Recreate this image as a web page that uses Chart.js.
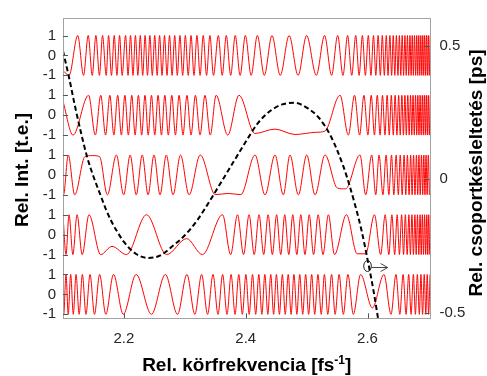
<!DOCTYPE html>
<html>
<head>
<meta charset="utf-8">
<script src="https://cdn.jsdelivr.net/npm/chart.js@4.4.1/dist/chart.umd.min.js"></script>
<style>
  html, body { margin: 0; padding: 0; background: #fff; }
  #wrap { width: 487px; height: 376px; }
</style>
</head>
<body>
<div id="wrap"><canvas id="chart" width="487" height="376"></canvas></div>
<script>
// axes
const xTicks = [2.2, 2.4, 2.6];
const intTicks = [1, 0, -1];
const delayTicks = [0.5, 0, -0.5];
const rowOffsets = [0, -3, -6, -9, -12];

// fringe maxima (+1), minima (-1) and in-between points
const row1Max = [2.1242, 2.1414, 2.1540, 2.1649, 2.1748, 2.1841, 2.1929, 2.2027, 2.2109, 2.2189, 2.2269, 2.2348, 2.2427, 2.2506, 2.2586, 2.2667, 2.2749, 2.2834, 2.2920, 2.3009, 2.3102, 2.3199, 2.3302, 2.3412, 2.3551, 2.3681, 2.3828, 2.3994, 2.4191, 2.4431, 2.4713, 2.5000, 2.5295, 2.5510, 2.5673, 2.5806, 2.5916, 2.6013, 2.6098, 2.6174, 2.6243, 2.6308, 2.6367, 2.6422, 2.6474, 2.6523, 2.6569, 2.6614, 2.6655, 2.6697, 2.6734, 2.6771, 2.6808, 2.6841, 2.6875, 2.6907, 2.6937, 2.6968, 2.6998, 2.7028];
const row1Min = [2.1100, 2.1337, 2.1480, 2.1598, 2.1710, 2.1796, 2.1885, 2.1971, 2.2068, 2.2149, 2.2229, 2.2309, 2.2387, 2.2466, 2.2546, 2.2626, 2.2708, 2.2791, 2.2877, 2.2965, 2.3056, 2.3151, 2.3251, 2.3357, 2.3470, 2.3614, 2.3753, 2.3908, 2.4089, 2.4305, 2.4567, 2.4860, 2.5159, 2.5410, 2.5597, 2.5741, 2.5862, 2.5965, 2.6056, 2.6136, 2.6210, 2.6276, 2.6337, 2.6396, 2.6448, 2.6500, 2.6546, 2.6592, 2.6635, 2.6676, 2.6716, 2.6753, 2.6790, 2.6824, 2.6858, 2.6891, 2.6922, 2.6953, 2.6983, 2.7013];
const row1Mid = [[2.1000, -0.77]];

const row2Max = [2.1420, 2.1620, 2.1769, 2.1898, 2.2016, 2.2129, 2.2238, 2.2346, 2.2453, 2.2561, 2.2672, 2.2786, 2.2906, 2.3035, 2.3174, 2.3331, 2.3514, 2.3890, 2.5549, 2.5787, 2.5941, 2.6061, 2.6160, 2.6246, 2.6322, 2.6391, 2.6453, 2.6511, 2.6564, 2.6614, 2.6661, 2.6706, 2.6747, 2.6788, 2.6826, 2.6863, 2.6900, 2.6933, 2.6965, 2.6998, 2.7030];
const row2Min = [2.1164, 2.1531, 2.1699, 2.1835, 2.1958, 2.2073, 2.2184, 2.2292, 2.2399, 2.2507, 2.2616, 2.2729, 2.2846, 2.2970, 2.3102, 2.3250, 2.3418, 2.3705, 2.5685, 2.5870, 2.6006, 2.6114, 2.6206, 2.6286, 2.6357, 2.6423, 2.6483, 2.6537, 2.6590, 2.6637, 2.6684, 2.6727, 2.6768, 2.6808, 2.6845, 2.6881, 2.6916, 2.6949, 2.6982, 2.7014];
const row2Mid = [[2.1000, 0.70], [2.4150, -0.92], [2.4480, -0.70], [2.4810, -0.97], [2.5150, -0.86], [2.5300, -0.80]];

const row3Max = [2.1086, 2.1876, 2.2103, 2.2301, 2.2494, 2.2696, 2.2929, 2.3253, 2.4153, 2.4481, 2.4727, 2.5002, 2.5302, 2.5877, 2.6069, 2.6189, 2.6305, 2.6394, 2.6470, 2.6537, 2.6601, 2.6655, 2.6708, 2.6756, 2.6803, 2.6844, 2.6886, 2.6924, 2.6961, 2.6998];
const row3Min = [2.1008, 2.1192, 2.1729, 2.1996, 2.2203, 2.2397, 2.2593, 2.2807, 2.3070, 2.4317, 2.4617, 2.4864, 2.5138, 2.5970, 2.6135, 2.6253, 2.6350, 2.6432, 2.6506, 2.6569, 2.6628, 2.6682, 2.6732, 2.6779, 2.6824, 2.6865, 2.6906, 2.6943, 2.6979, 2.7016];
const row3Mid = [[2.1000, -0.97], [2.1360, 0.92], [2.1480, 0.97], [2.1600, 0.92], [2.3500, -0.99], [2.3715, -0.93], [2.3920, -0.99], [2.5505, -0.66], [2.5640, -0.70]];

const row4Max = [2.1099, 2.1231, 2.1427, 2.2371, 2.3620, 2.3865, 2.4055, 2.4219, 2.4368, 2.4507, 2.4641, 2.4773, 2.4905, 2.5043, 2.5189, 2.5357, 2.5654, 2.6114, 2.6290, 2.6400, 2.6487, 2.6560, 2.6621, 2.6679, 2.6729, 2.6778, 2.6820, 2.6863, 2.6900, 2.6937, 2.6973, 2.7005];
const row4Min = [2.1049, 2.1162, 2.1315, 2.1618, 2.2042, 2.2700, 2.3289, 2.3753, 2.3965, 2.4140, 2.4295, 2.4438, 2.4575, 2.4707, 2.4839, 2.4973, 2.5114, 2.5269, 2.5458, 2.6216, 2.6350, 2.6446, 2.6524, 2.6592, 2.6651, 2.6704, 2.6754, 2.6799, 2.6842, 2.6882, 2.6919, 2.6955, 2.6989, 2.7021];
const row4Mid = [[2.1000, 0.99], [2.1805, -0.59], [2.3030, -0.20], [2.5830, -0.96], [2.5970, -0.96]];

const row5Max = [2.1049, 2.1126, 2.1214, 2.1318, 2.1444, 2.1601, 2.1829, 2.2201, 2.2681, 2.3035, 2.3276, 2.3463, 2.3621, 2.3760, 2.3886, 2.4003, 2.4112, 2.4215, 2.4314, 2.4411, 2.4504, 2.4602, 2.4698, 2.4792, 2.4887, 2.4984, 2.5083, 2.5186, 2.5292, 2.5410, 2.5533, 2.5678, 2.5886, 2.6270, 2.6467, 2.6584, 2.6676, 2.6753, 2.6818, 2.6877, 2.6931, 2.6980, 2.7027];
const row5Min = [2.1012, 2.1086, 2.1169, 2.1265, 2.1377, 2.1517, 2.1703, 2.1989, 2.2452, 2.2880, 2.3165, 2.3374, 2.3545, 2.3693, 2.3825, 2.3945, 2.4057, 2.4164, 2.4265, 2.4363, 2.4458, 2.4553, 2.4649, 2.4745, 2.4840, 2.4936, 2.5033, 2.5133, 2.5240, 2.5347, 2.5468, 2.5603, 2.5767, 2.6386, 2.6531, 2.6633, 2.6715, 2.6786, 2.6851, 2.6904, 2.6957, 2.7003];
const row5Mid = [[2.1000, -0.48], [2.6080, -0.68]];

// group delay (right axis, ps)
const gdX = [2.100, 2.110, 2.120, 2.130, 2.140, 2.150, 2.160, 2.170, 2.180, 2.190, 2.200, 2.220, 2.240, 2.260, 2.280, 2.300, 2.320, 2.340, 2.360, 2.380, 2.400, 2.420, 2.440, 2.460, 2.480, 2.500, 2.520, 2.540, 2.560, 2.570, 2.580, 2.590, 2.600, 2.610, 2.620];
const gdY = [0.48, 0.38, 0.27, 0.17, 0.08, 0.01, -0.05, -0.11, -0.16, -0.20, -0.235, -0.28, -0.295, -0.285, -0.25, -0.21, -0.155, -0.085, -0.01, 0.065, 0.14, 0.21, 0.255, 0.28, 0.286, 0.268, 0.23, 0.16, 0.05, -0.02, -0.10, -0.19, -0.30, -0.42, -0.56];

// circled point + arrow
const markX = 2.6, markY = -0.325, arrowToX = 2.633;

const FONT = '"Liberation Sans", Arial, Helvetica, sans-serif';

function rowPoints(maxs, mins, mids, off) {
  const pts = [];
  maxs.forEach(x => pts.push({ x, y: 1 + off }));
  mins.forEach(x => pts.push({ x, y: -1 + off }));
  mids.forEach(([x, v]) => pts.push({ x, y: v + off }));
  return pts.sort((a, b) => a.x - b.x);
}

const rows = [
  [row1Max, row1Min, row1Mid], [row2Max, row2Min, row2Mid], [row3Max, row3Min, row3Mid],
  [row4Max, row4Min, row4Mid], [row5Max, row5Min, row5Mid]
];

const redSets = rows.map((r, i) => ({
  data: rowPoints(r[0], r[1], r[2], rowOffsets[i]),
  borderColor: 'rgb(255,0,0)', borderWidth: 1, pointRadius: 0,
  cubicInterpolationMode: 'monotone', yAxisID: 'y', order: 2, fill: false
}));

const gdSet = {
  data: gdX.map((x, i) => ({ x, y: gdY[i] })),
  borderColor: '#000', borderWidth: 2, borderDash: [5, 3], pointRadius: 0,
  cubicInterpolationMode: 'monotone', yAxisID: 'y2', order: 1, fill: false
};

const yTickVals = [];
rowOffsets.forEach(o => intTicks.forEach(t => yTickVals.push(o + t)));
function rowLabel(v) {
  const o = rowOffsets.find(o => Math.abs(v - o) <= 1.01);
  return String(Math.round(v - o));
}

// frame, inward ticks, titles and the marker
const framePlugin = {
  id: 'frame',
  afterDraw(chart) {
    const { ctx, chartArea: a, scales } = chart;
    ctx.save();
    ctx.strokeStyle = '#a3a3a3'; ctx.lineWidth = 1;
    ctx.strokeRect(Math.round(a.left) + 0.5, Math.round(a.top) + 0.5, Math.round(a.right - a.left) - 1, Math.round(a.bottom - a.top));
    ctx.strokeStyle = '#555';
    ctx.beginPath();
    yTickVals.forEach(v => { const y = Math.round(scales.y.getPixelForValue(v)) + 0.5; ctx.moveTo(a.left, y); ctx.lineTo(a.left + 5, y); });
    delayTicks.forEach(v => { const y = Math.round(scales.y2.getPixelForValue(v)) + 0.5; ctx.moveTo(a.right - 6, y); ctx.lineTo(a.right - 1, y); });
    xTicks.forEach(v => { const x = Math.round(scales.x.getPixelForValue(v)) + 0.5; ctx.moveTo(x, a.bottom); ctx.lineTo(x, a.bottom - 5); });
    ctx.stroke();

    // circled point and arrow
    const mx = scales.x.getPixelForValue(markX), my = scales.y2.getPixelForValue(markY);
    ctx.strokeStyle = '#222'; ctx.lineWidth = 1;
    ctx.beginPath(); ctx.ellipse(mx, my, 3.8, 5.5, 0, 0, Math.PI * 2); ctx.stroke();
    const ax = scales.x.getPixelForValue(arrowToX);
    ctx.strokeStyle = '#444';
    ctx.beginPath();
    ctx.moveTo(mx + 4, my + 1.5); ctx.lineTo(ax, my + 1.5);
    ctx.moveTo(ax - 7, my - 2.5); ctx.lineTo(ax, my + 1.5); ctx.lineTo(ax - 7, my + 5.5);
    ctx.stroke();

    // axis titles
    ctx.fillStyle = '#000';
    ctx.font = 'bold 19px ' + FONT;
    ctx.textBaseline = 'alphabetic';
    const main = 'Rel. körfrekvencia [fs', sup = '-1', tail = ']';
    const w1 = ctx.measureText(main).width, w3 = ctx.measureText(tail).width;
    ctx.font = 'bold 12px ' + FONT;
    const w2 = ctx.measureText(sup).width;
    let x0 = (a.left + a.right) / 2 - (w1 + w2 + w3) / 2;
    const by = 371;
    ctx.font = 'bold 19px ' + FONT; ctx.textAlign = 'left';
    ctx.fillText(main, x0, by);
    ctx.font = 'bold 12px ' + FONT;
    ctx.fillText(sup, x0 + w1, by - 7);
    ctx.font = 'bold 19px ' + FONT;
    ctx.fillText(tail, x0 + w1 + w2, by);

    ctx.textAlign = 'center'; ctx.textBaseline = 'middle';
    ctx.save(); ctx.translate(23, 170); ctx.rotate(-Math.PI / 2);
    ctx.fillText('Rel. Int. [t.e.]', 0, 0); ctx.restore();
    ctx.save(); ctx.translate(477, 173); ctx.rotate(-Math.PI / 2);
    ctx.fillText('Rel. csoportkésleltetés [ps]', 0, 0); ctx.restore();
    ctx.restore();
  }
};

const tickFont = { family: FONT, size: 15 };

new Chart(document.getElementById('chart'), {
  type: 'line',
  data: { datasets: [gdSet, ...redSets] },
  options: {
    responsive: false, animation: false, devicePixelRatio: 1,
    layout: { padding: { top: 14, left: 0, right: 0, bottom: 0 } },
    plugins: { legend: { display: false }, tooltip: { enabled: false } },
    scales: {
      x: {
        type: 'linear', position: 'bottom', min: 2.1, max: 2.7034,
        grid: { display: false, drawTicks: false }, border: { display: false },
        ticks: { font: tickFont, color: '#262626', padding: 12, autoSkip: false, maxRotation: 0, callback: v => v.toFixed(1) },
        afterBuildTicks: s => { s.ticks = xTicks.map(v => ({ value: v })); },
        afterFit: s => { s.height = 57.7; }
      },
      y: {
        type: 'linear', position: 'left', min: -13.2, max: 1.88,
        grid: { display: false, drawTicks: false }, border: { display: false },
        ticks: { font: tickFont, color: '#262626', padding: 7, autoSkip: false, callback: v => rowLabel(v) },
        afterBuildTicks: s => { s.ticks = yTickVals.map(v => ({ value: v })); },
        afterFit: s => { s.width = 63; }
      },
      y2: {
        type: 'linear', position: 'right', min: -0.5207, max: 0.6034,
        grid: { display: false, drawTicks: false }, border: { display: false },
        ticks: { font: tickFont, color: '#262626', padding: 9, autoSkip: false, callback: v => String(v) },
        afterBuildTicks: s => { s.ticks = delayTicks.map(v => ({ value: v })); },
        afterFit: s => { s.width = 56.5; }
      }
    }
  },
  plugins: [framePlugin]
});
</script>
</body>
</html>
